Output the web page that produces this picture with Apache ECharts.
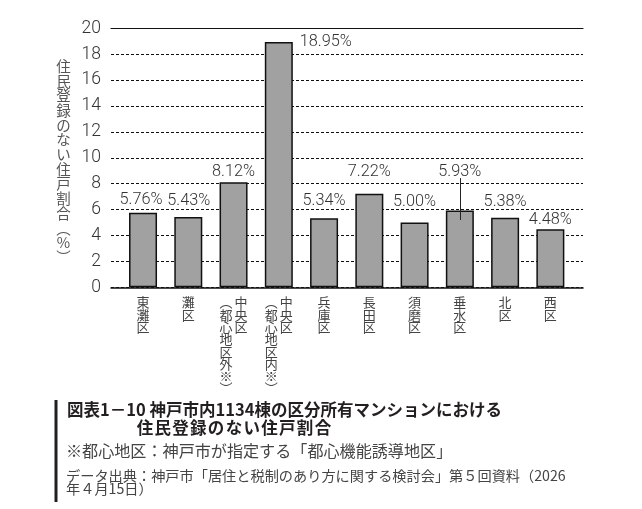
<!DOCTYPE html>
<html><head><meta charset="utf-8">
<script src="https://cdn.jsdelivr.net/npm/echarts@6/dist/echarts.min.js"></script>
<style>html,body{margin:0;padding:0;background:#fff}#c{width:642px;height:509px}</style>
</head><body><div id="c"></div>
<script>
// ---- data ----
const categories = ['東灘区','灘区','中央区（都心地区外※）','中央区（都心地区内※）','兵庫区','長田区','須磨区','垂水区','北区','西区'];
const values = [5.76, 5.43, 8.12, 18.95, 5.34, 7.22, 5.00, 5.93, 5.38, 4.48];
const yMin = 0, yMax = 20, yInterval = 2;
const yAxisName = '住民登録のない住戸割合（%）';
const titleLines = ['図表1－10 神戸市内1134棟の区分所有マンションにおける', '住民登録のない住戸割合'];
const noteLines = ['※都心地区：神戸市が指定する「都心機能誘導地区」', 'データ出典：神戸市「居住と税制のあり方に関する検討会」第５回資料（2026', '年４月15日）'];

// ---- layout helpers (not data) ----
const labelNudgeY = [0, -3.5, 2.5, 0, -4.5, -9, -8, -26, -3, 3.5];
const labelNudgeX = [-2, 0.5, 0, 0, 0, 0, 0, 0, 0, 0];
const calloutIndex = 7;
const sideLabelIndex = 3;

const NUM_FONT = "Roboto,'Liberation Sans',sans-serif";
const JP_FONT = "'Noto Sans CJK JP','Noto Sans CJK SC',sans-serif";

function toVertical(s){ return s.replace(/（/g,'︵').replace(/）/g,'︶'); }

function vertLabel(name){
  const m = name.match(/^(.*?)（(.*)）$/);
  if(!m) return name.split('').map(c => '{s|' + c + '}').join('\n');
  const right = m[1].split('');
  const left = ['︵'].concat(m[2].split(''), ['︶']);
  const n = Math.max(left.length, right.length);
  const lines = [];
  for(let i=0;i<n;i++) lines.push('{l|' + (left[i]||'　') + '}{r|' + (right[i]||'　') + '}');
  return lines.join('\n');
}

// spaced text: each character in a fixed-width cell
function spaced(s){ return s.split('').map(c => '{c|' + c + '}').join(''); }

const chart = echarts.init(document.getElementById('c'), null, {renderer:'canvas'});
const gridTop = 28.3, gridBottom = 509 - 287.3;
const xLabelStyle = {fontSize:13, lineHeight:12.3, color:'#444', fontFamily:JP_FONT};

const barData = values.map((v,i) => {
  const item = {value:v};
  if(i === sideLabelIndex){
    item.label = {position:['100%',0], align:'left', verticalAlign:'middle', offset:[7,0]};
  } else {
    item.label = {offset:[labelNudgeX[i], labelNudgeY[i]]};
  }
  return item;
});

chart.setOption({
  animation:false,
  backgroundColor:'#fff',
  grid:[
    {left:111, right:642-583, top:gridTop, bottom:gridBottom},
    {left:120.4, right:642-573, top:gridTop, bottom:gridBottom}
  ],
  xAxis:[
    {gridIndex:0, type:'category', data:categories, position:'bottom',
     axisLine:{show:true, lineStyle:{color:'#111', width:1.5}}, axisTick:{show:false}, axisLabel:{show:false}},
    {gridIndex:0, type:'category', data:categories, position:'top',
     axisLine:{show:true, lineStyle:{color:'#111', width:1.2}}, axisTick:{show:false}, axisLabel:{show:false}},
    {gridIndex:1, type:'category', data:categories, position:'bottom',
     axisLine:{show:false}, axisTick:{show:false},
     axisLabel:{interval:0, margin:9, verticalAlign:'top', formatter:vertLabel,
       rich:{
         s:xLabelStyle,
         l:Object.assign({width:15, align:'center'}, xLabelStyle),
         r:Object.assign({width:15, align:'center'}, xLabelStyle)
       }}}
  ],
  yAxis:[
    {gridIndex:0, type:'value', min:yMin, max:yMax, interval:yInterval,
     axisLine:{show:false}, axisTick:{show:false},
     axisLabel:{margin:10, fontSize:17.5, fontWeight:300, color:'#333', fontFamily:NUM_FONT},
     splitLine:{show:true, lineStyle:{color:'#111', width:1, type:[3,2]}}},
    {gridIndex:1, type:'value', min:yMin, max:yMax, interval:yInterval, show:false, splitLine:{show:false}}
  ],
  series:[{
    type:'bar', xAxisIndex:2, yAxisIndex:1, data:barData, barWidth:28,
    itemStyle:{color:'#a0a1a0', borderColor:'#111', borderWidth:1.5},
    label:{show:true, position:'top', distance:5, fontSize:16.3, fontWeight:300, color:'#333', fontFamily:NUM_FONT,
      formatter: p => p.value.toFixed(2) + '%'},
    markLine:{silent:true, symbol:'none', label:{show:false}, animation:false,
      lineStyle:{color:'#222', width:1, type:'solid'},
      emphasis:{disabled:true},
      data:[[{coord:[calloutIndex, values[calloutIndex]-0.73]},{coord:[calloutIndex, values[calloutIndex]+2.5]}]]}
  }],
  graphic:[
    {type:'text', style:{text:toVertical(yAxisName).split('').join('\n'), x:63.5, y:59,
      fontSize:14.5, lineHeight:14.7, fill:'#555', align:'center', verticalAlign:'top', fontFamily:JP_FONT}},
    {type:'rect', shape:{x:54.5, y:400, width:3, height:102}, style:{fill:'#231f20'}},
    {type:'text', style:{text:titleLines[0], x:67, y:410, fontSize:16.5, fontWeight:'bold', fill:'#231f20', verticalAlign:'middle', fontFamily:JP_FONT}},
    {type:'text', style:{text:spaced(titleLines[1]), x:136, y:428, verticalAlign:'middle',
      rich:{c:{width:17.8, align:'center', fontSize:16.5, fontWeight:'bold', fill:'#231f20', fontFamily:JP_FONT}}}},
    {type:'text', style:{text:noteLines[0], x:66, y:451, fontSize:16.1, fill:'#444', verticalAlign:'middle', fontFamily:JP_FONT}},
    {type:'text', style:{text:noteLines[1], x:66, y:475.5, fontSize:14.2, fill:'#444', verticalAlign:'middle', fontFamily:JP_FONT}},
    {type:'text', style:{text:noteLines[2], x:66, y:489, fontSize:14.2, fill:'#444', verticalAlign:'middle', fontFamily:JP_FONT}}
  ]
});
</script></body></html>
